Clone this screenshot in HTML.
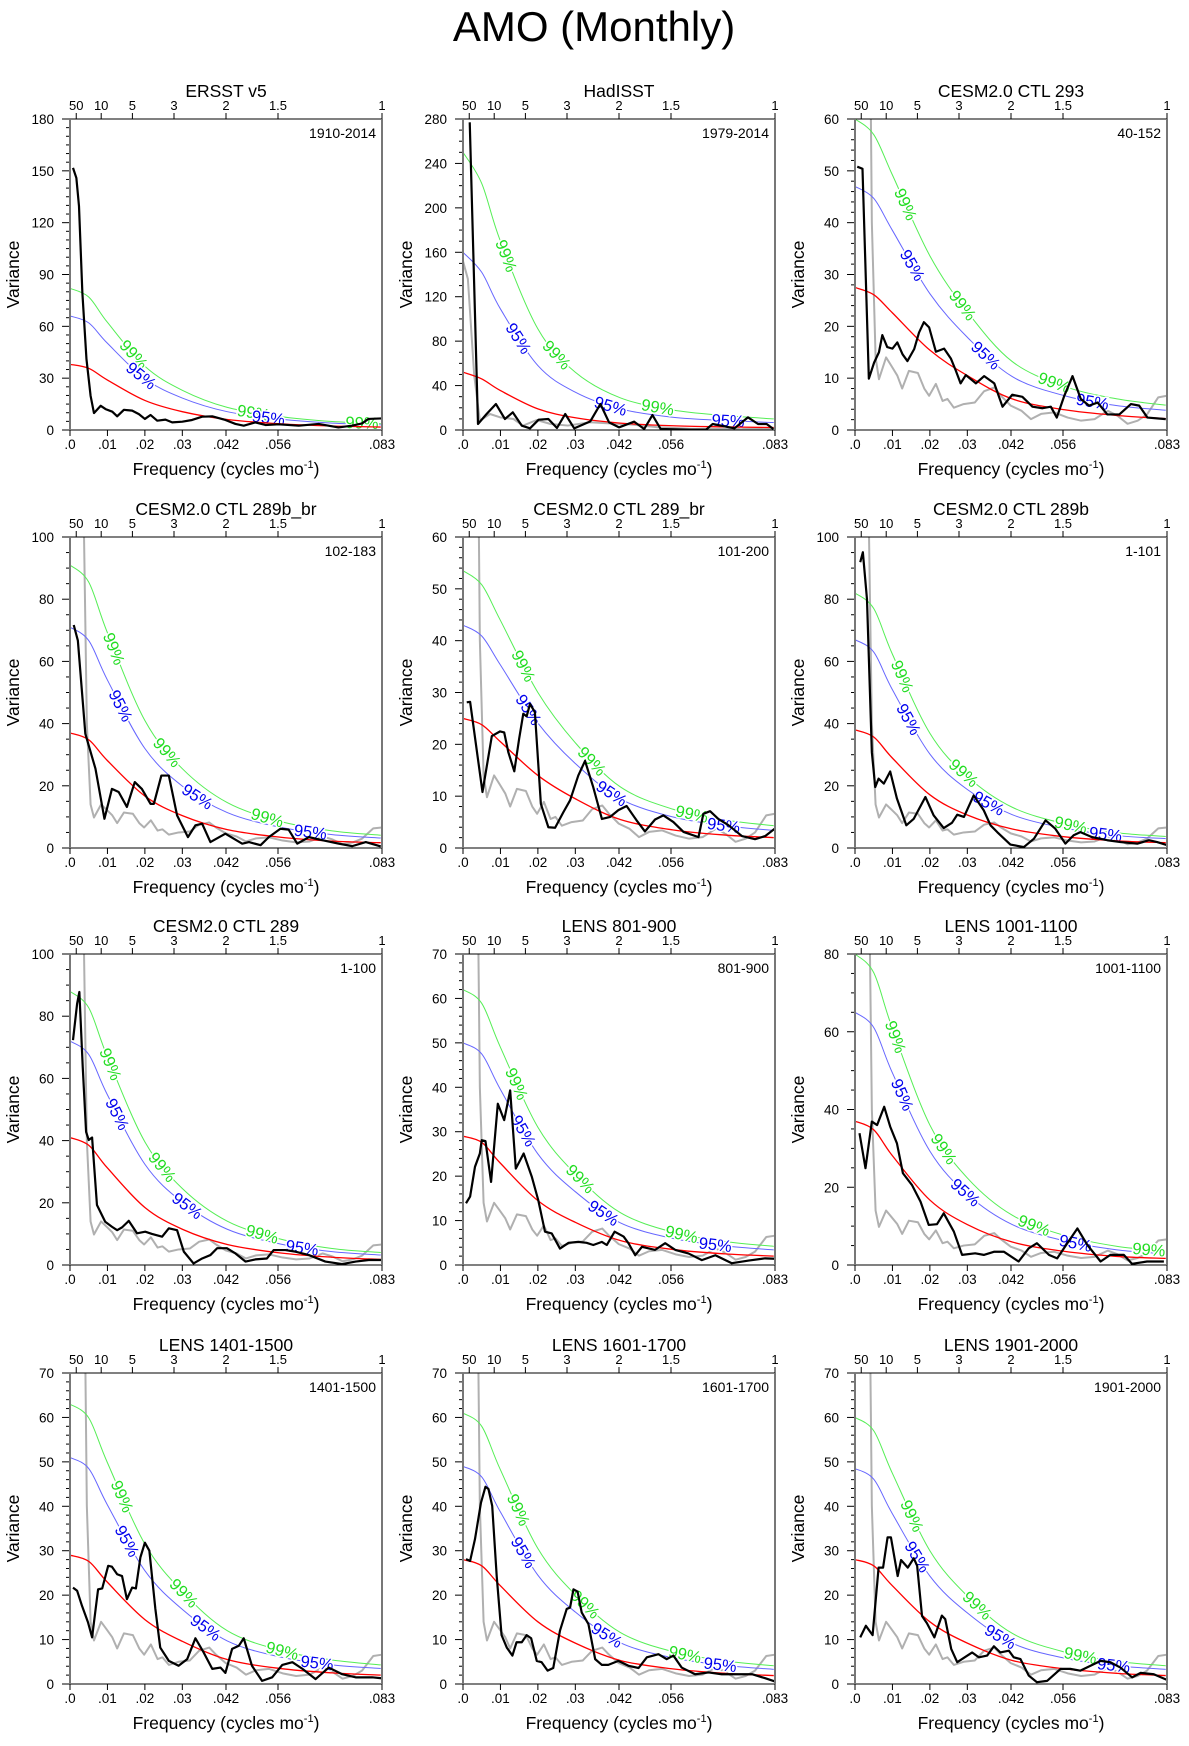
<!DOCTYPE html>
<html><head><meta charset="utf-8"><title>AMO (Monthly)</title>
<style>
html,body{margin:0;padding:0;background:#fff;}
svg{display:block;font-family:"Liberation Sans",Arial,sans-serif;}
</style></head>
<body>
<svg id="fig" width="1189" height="1746" viewBox="0 0 1189 1746" xmlns="http://www.w3.org/2000/svg">
<rect width="1189" height="1746" fill="#fff"/>
<text x="594" y="41" font-size="42" text-anchor="middle" fill="#000">AMO (Monthly)</text>
</svg>
<script>
// ---------- shared data ----------
const thFreq = [0,0.005,0.01,0.02,0.03,0.042,0.056,0.07,0.083];
const xTickVals = [0,0.01,0.02,0.03,1/24,1/18,1/12];
const xTickLabels = ['.0','.01','.02','.03','.042','.056','.083'];
const periodVals = [50,10,5,3,2,1.5,1];
const periodLabels = ['50','10','5','3','2','1.5','1'];
const grayF = [.0025,.0035,.0045,.0055,.0064,.0083,.0097,.0113,.0126,.0144,.0168,.0185,.0198,.0216,.0234,.0247,.0264,.029,.032,.0345,.0372,.039,.0416,.0445,.047,.0497,.0532,.0568,.0604,.064,.0675,.070,.0728,.0755,.078,.081,.0833];
const grayV = [300,120,40,14,9.8,14,12.4,10.5,8,11.4,11,8,6.6,8.9,5.6,6,4.3,5,5.3,7.5,8.2,6.6,4.7,3.7,2.1,3.1,3.4,2.4,1.8,2.1,3.7,2.8,1.2,1.8,3,6.3,6.6];
const hadGrayF = [0,.0013,.003,.0045,.0072,.0099,.0135,.016,.0197,.0234,.028,.034,.039,.045,.052,.061,.083];
const hadGrayV = [152,136,49,8.4,14.4,11.4,9.9,3.9,9,5.4,4,7,6,5,2.5,1,1];

// ---------- panel 1 ERSST ----------
const p1Red = [38,35.7,28.9,17.1,10.6,6.1,3.6,2.3,1.7];
const p1Blue = [66,62,50.2,29.7,18.5,10.6,6.3,4,3];
const p1Green = [82,77,62.3,36.9,23,13.1,7.8,4.9,3.7];
const p1BlackF = [.0008,.0017,.0024,.0033,.0044,.0055,.0064,.0082,.0095,.0113,.0126,.0144,.0166,.0184,.02,.0215,.0233,.0255,.0273,.03,.0326,.0353,.038,.0415,.0442,.0464,.0495,.0522,.0557,.0611,.0664,.0717,.0753,.078,.0797,.0831];
const p1BlackV = [151.7,145.9,129.6,79.5,41,19.8,9.8,14,12.1,10.6,7.9,11.7,11.2,9.2,6.4,8.7,5.4,6,4.4,4.8,5.8,7.7,7.9,5.8,3.5,2.5,4.4,2.9,3.3,2.5,3.5,1.5,2.5,3.8,6.4,6.7];
// ---------- panel 2 HadISST ----------
const p2Red = [52,46,35.5,19,11,6.2,3.8,2.8,2.2];
const p2Blue = [160,142,109,58,34,19,11.5,8.5,6.7];
const p2Green = [250,222,170,91,52,29,18,13,10];
const p2BlackF = [.0018,.004,.0063,.0088,.0112,.0133,.0157,.0179,.0202,.0228,.0251,.0273,.0297,.034,.0367,.039,.0417,.0457,.0484,.0506,.0528,.0609,.0649,.0667,.0725,.0761,.0788,.0811,.0829];
const p2BlackV = [277,5.4,14.4,23.4,9.9,15.9,3.9,1.5,9.3,9.9,1.8,14.4,1.5,7.8,23.4,6.9,2.4,7.5,0.9,13.5,0.9,0.3,0.3,5.4,1.5,11.4,5.4,5.4,0.9];
// ---------- panel 3 ----------
const p3Red = [27.5,26.1,22.6,15.4,10.5,6,3.9,2.8,2.2];
const p3Blue = [47,44.7,38.5,26.3,17.9,10.3,6.6,4.7,3.8];
const p3Green = [60,57,49.2,33.6,22.8,13.2,8.4,6,4.8];
const p3BlackF = [.0006,.002,.0037,.0051,.0064,.0073,.0086,.01,.0113,.0127,.014,.0158,.0171,.0184,.0198,.0216,.0238,.0256,.0269,.0282,.0296,.0323,.0345,.0372,.0394,.042,.0447,.0474,.0501,.0523,.0539,.0559,.0581,.0603,.0625,.0648,.0674,.0706,.0737,.0759,.0781,.083];
const p3BlackV = [50.8,50.4,9.9,13,15,18.3,16,15.7,16.9,14.6,13.3,15.6,18.8,20.8,19.8,15.1,15.7,13.8,11.5,9,10.6,9,10.4,9,4.5,6.8,6.4,4.5,4.2,4.5,2.4,6.6,10.4,6,4.7,5.3,3,3,5,4.7,2.4,2.1];
// ---------- panel 4 ----------
const p4Red = [37,34.8,28.1,16.7,10.4,5.9,3.5,2.2,1.7];
const p4Blue = [71,66.7,54,32,19.9,11.4,6.7,4.3,3.2];
const p4Green = [91,85.5,69.2,41,25.5,14.6,8.6,5.5,4.1];
const p4BlackF = [.001,.0021,.0041,.0068,.0092,.0112,.013,.0152,.0173,.0192,.0215,.0224,.0244,.0264,.0286,.0315,.0335,.0353,.0375,.0415,.046,.0478,.0509,.0531,.0562,.0584,.0607,.0638,.0674,.0718,.0754,.079,.083];
const p4BlackV = [71.7,66.7,36.7,25.5,9.4,19,18,13.2,21.2,19,14.2,14.2,23.3,23.3,10.5,3.5,7.3,7.8,1.9,4.6,1.4,1.9,0.9,3.5,6.2,5.9,1.4,3.5,2.5,1.4,0.6,1.9,0.5];
// ---------- panel 5 ----------
const p5Red = [25,23.8,20.5,14,9.5,5.5,3.5,2.5,2];
const p5Blue = [43,40.9,35.3,24.1,16.3,9.5,6,4.3,3.4];
const p5Green = [53.5,50.8,43.9,30,20.3,11.8,7.5,5.4,4.3];
const p5BlackF = [.001,.0019,.0052,.0077,.0099,.011,.0121,.0137,.015,.0161,.017,.0179,.0192,.0208,.0228,.0246,.0268,.0286,.0308,.0326,.0348,.0371,.0393,.0415,.0437,.0464,.0486,.0513,.0535,.0562,.0589,.0629,.0642,.066,.0682,.0709,.0745,.078,.0807,.0832];
const p5BlackV = [28.1,28.2,10.8,21.6,22.5,22.3,18.5,14.8,21.1,25.9,25.4,27.8,26.2,8.5,4,3.9,6.9,9.2,14,16.8,11.7,5.6,6,7.3,8.1,5.3,3.2,5.5,6.3,5,3.1,2.1,6.6,7.1,5.6,4.4,2.3,1.7,2.3,3.7];
// ---------- panel 6 ----------
const p6Red = [38,35.7,28.9,17.1,10.6,6.1,3.6,2.3,1.7];
const p6Blue = [67,63,50.9,30.2,18.8,10.7,6.4,4,3];
const p6Green = [82,77,62.3,36.9,23,13.1,7.8,4.9,3.7];
const p6BlackF = [.0014,.0021,.0032,.0045,.0054,.0063,.0077,.0094,.0112,.0137,.0157,.0188,.021,.0237,.0259,.0273,.0291,.0317,.0344,.0362,.038,.0415,.0451,.0478,.0509,.0535,.0562,.0584,.0602,.0633,.0674,.0709,.0754,.0785,.0807,.0834];
const p6BlackV = [91.9,95.1,80,30.8,19.6,22.3,20.7,24.6,15.9,7.3,9.4,16.4,10.5,6.4,8.1,10.7,10,16.9,12.1,7.3,5.1,1.1,0.3,3,8.9,6.2,1.4,4.1,5.1,3.5,2.5,1.9,1.4,2.5,1.9,0.9];
// ---------- panel 7 ----------
const p7Red = [41,38.5,31.2,18.5,11.5,6.6,3.9,2.5,1.8];
const p7Blue = [72,67.7,54.7,32.4,20.2,11.5,6.8,4.3,3.2];
const p7Green = [88,82.7,66.9,39.6,24.6,14.1,8.4,5.3,4];
const p7BlackF = [.0008,.0019,.0025,.0034,.0043,.005,.0059,.0072,.0094,.0112,.0126,.0139,.0157,.0179,.0201,.0219,.0246,.0264,.0286,.0304,.033,.0353,.0375,.0393,.0419,.0442,.0469,.0495,.0526,.0544,.0575,.0602,.0638,.0682,.0727,.0763,.0798,.0832];
const p7BlackV = [72.3,84,87.8,63.7,42.8,40.2,41,19.3,13.9,12.3,11.2,12.1,14.2,10.2,10.7,10,9.1,11.8,11.2,4.3,0.5,2.1,3.2,5.4,5.4,3.7,1.1,1.8,2.1,4.8,4.8,4.3,3.2,1.1,0.3,1.1,1.6,1.6];
// ---------- panel 8 ----------
const p8Red = [29,27.6,22.9,14.5,9.6,5.5,3.5,2.5,2];
const p8Blue = [50,47.5,39.5,25,16.5,9.5,6,4.3,3.4];
const p8Green = [62,58.9,49,31,20.5,11.8,7.4,5.3,4.2];
const p8BlackF = [.0008,.0019,.0032,.0045,.005,.006,.0075,.0093,.011,.0126,.0141,.0162,.0184,.0201,.0219,.0237,.0259,.0282,.0308,.033,.0348,.0371,.0384,.0405,.0429,.0442,.046,.0478,.0513,.054,.0567,.0602,.0638,.0674,.0718,.0763,.0807,.0832];
const p8BlackV = [13.9,15.4,22.1,25.1,28.1,27.9,18.7,36.3,32.6,39.3,21.7,25.1,19.8,14.6,7.5,7.1,3.7,5,5.2,5,4.5,5.2,4.5,7.5,6.4,4.9,2.2,4.1,3.4,4.9,3.4,2.6,1.1,2.2,0.4,1,1.5,1.4];
// ---------- panel 9 ----------
const p9Red = [37,34.8,28.1,16.7,10.4,5.9,3.5,2.2,1.7];
const p9Blue = [65,61.1,49.4,29.3,18.2,10.4,6.2,3.9,2.9];
const p9Green = [80,75.2,60.8,36,22.4,12.8,7.6,4.8,3.6];
const p9BlackF = [.0012,.0028,.0045,.0059,.0078,.0094,.0112,.0128,.0152,.0175,.0197,.0219,.0237,.0264,.0286,.0321,.0344,.0371,.0398,.0437,.0464,.0486,.0518,.054,.0567,.0594,.0621,.0656,.0682,.0718,.074,.078,.0825];
const p9BlackV = [33.9,24.9,36.9,36,40.7,35.6,31.3,23.6,20.6,16.3,10.3,10.5,13.3,8.6,2.6,3,2.6,3.4,3.4,0.9,4.3,5.6,2.6,1.7,5.6,9.4,5.1,0.9,2.6,2.6,0.3,0.9,0.9];
// ---------- panel 10 ----------
const p10Red = [29,27.6,22.9,14.5,9.6,5.5,3.5,2.5,2];
const p10Blue = [51,48.5,40.3,25.5,16.8,9.7,6.1,4.3,3.5];
const p10Green = [63,59.9,49.8,31.5,20.8,12,7.6,5.4,4.3];
const p10BlackF = [.0008,.0019,.0032,.0048,.0059,.0075,.0086,.0102,.0112,.0126,.0139,.0152,.0166,.0176,.0188,.02,.0212,.0228,.0241,.0264,.029,.0313,.0335,.0357,.038,.0402,.0415,.0433,.0451,.0464,.0486,.0513,.054,.0567,.0594,.0621,.0656,.0691,.0727,.0763,.0807,.0832];
const p10BlackV = [21.7,21,17.6,13.9,10.5,21.3,21.5,26.6,26.4,24.7,24.3,19.1,21.7,21.5,28.5,31.8,30,16.9,8.2,5.2,4.1,5.6,10.3,7.1,3.4,3.7,2.5,7.9,8.6,10.3,4.1,0.7,1.5,4.3,4.9,3.4,1.1,3.7,2.2,1.5,1.5,1.3];
// ---------- panel 11 ----------
const p11Red = [28,26.6,22.1,14,9.2,5.3,3.4,2.4,1.9];
const p11Blue = [49,46.6,38.7,24.5,16.2,9.3,5.9,4.2,3.3];
const p11Green = [61,58,48.2,30.5,20.1,11.6,7.3,5.2,4.1];
const p11BlackF = [.0008,.0019,.0032,.0048,.006,.0068,.0078,.009,.0103,.0117,.0132,.0143,.0157,.017,.0182,.0197,.021,.0226,.0241,.0259,.0277,.0286,.0295,.0306,.0317,.0335,.0353,.0371,.0388,.0415,.0442,.0469,.0491,.0522,.0544,.0562,.0584,.062,.0656,.0691,.0736,.0772,.0807,.0832];
const p11BlackV = [28.1,27.7,32.6,40.8,44.4,43.9,40.1,24.3,11,8.2,6.4,9.4,9.4,11,10.3,5.2,4.9,3,3.6,12,16.9,17.2,21.3,20.8,16.1,13.5,5.6,4.3,4.3,5.2,4.1,3.6,6,6.7,5.6,6.4,3.7,2.2,2.6,2.2,2.2,2.2,1.3,0.6];
// ---------- panel 12 ----------
const p12Red = [28,26.6,22.1,14,9.2,5.3,3.4,2.4,1.9];
const p12Blue = [48.5,46.1,38.3,24.3,16,9.2,5.8,4.1,3.3];
const p12Green = [60,57,47.4,30,19.8,11.4,7.2,5.1,4.1];
const p12BlackF = [.0014,.0029,.0047,.0063,.0075,.0087,.0096,.0114,.0123,.0141,.0157,.0166,.0179,.0192,.0212,.0232,.0241,.0257,.0273,.0313,.0331,.0353,.0371,.0388,.0411,.0424,.0442,.0464,.0486,.0513,.0549,.0575,.0602,.0629,.0656,.0682,.0709,.074,.0763,.0798,.0834];
const p12BlackV = [10.5,13.1,11,26.2,26.2,33,33,24.3,27.9,26.2,28.3,26.6,15.3,13.7,10.5,15.4,14.6,7.9,4.9,7.1,6,6.4,8.5,7.1,7.5,6,5.6,1.9,0.4,0.7,3.4,3.4,3,4.1,5.2,4.9,3.7,1.5,2.5,2.2,0.9];

// ---------- label positions (frequency) ----------
const p1GLab=[.017,.049,.078], p1BLab=[.019,.053];
const p2GLab=[.0115,.025,.052], p2BLab=[.0148,.0394,.0708];
const p3GLab=[.0135,.0287,.0532], p3BLab=[.0153,.0349,.0634];
const p4GLab=[.0117,.0259,.0527], p4BLab=[.0135,.034,.0642];
const p5GLab=[.0161,.0344,.0611], p5BLab=[.0175,.0397,.0696];
const p6GLab=[.0126,.029,.0576], p6BLab=[.0143,.0357,.0669];
const p7GLab=[.0108,.0246,.0513], p7BLab=[.0126,.0313,.062];
const p8GLab=[.0143,.0313,.0584], p8BLab=[.0161,.0375,.0674];
const p9GLab=[.0108,.0237,.0478,.0785], p9BLab=[.0126,.0295,.0589];
const p10GLab=[.0139,.0304,.0567], p10BLab=[.0152,.0362,.066];
const p11GLab=[.0148,.0326,.0593], p11BLab=[.0161,.0384,.0687];
const p12GLab=[.0152,.0326,.0602], p12BLab=[.0166,.0388,.0691];

const COLS=[70,463,855], ROWS=[119,537,954,1373], W=312, H=311, FMAX=1/12;
const panels = [
 {t:'ERSST v5',r:'1910-2014',ymax:180,maj:30,min:5,red:p1Red,blue:p1Blue,green:p1Green,bf:p1BlackF,bv:p1BlackV,gf:null,gv:null,gl:p1GLab,bl:p1BLab},
 {t:'HadISST',r:'1979-2014',ymax:280,maj:40,min:10,red:p2Red,blue:p2Blue,green:p2Green,bf:p2BlackF,bv:p2BlackV,gf:hadGrayF,gv:hadGrayV,gl:p2GLab,bl:p2BLab},
 {t:'CESM2.0 CTL 293',r:'40-152',ymax:60,maj:10,min:2,red:p3Red,blue:p3Blue,green:p3Green,bf:p3BlackF,bv:p3BlackV,gf:grayF,gv:grayV,gl:p3GLab,bl:p3BLab},
 {t:'CESM2.0 CTL 289b_br',r:'102-183',ymax:100,maj:20,min:5,red:p4Red,blue:p4Blue,green:p4Green,bf:p4BlackF,bv:p4BlackV,gf:grayF,gv:grayV,gl:p4GLab,bl:p4BLab},
 {t:'CESM2.0 CTL 289_br',r:'101-200',ymax:60,maj:10,min:2,red:p5Red,blue:p5Blue,green:p5Green,bf:p5BlackF,bv:p5BlackV,gf:grayF,gv:grayV,gl:p5GLab,bl:p5BLab},
 {t:'CESM2.0 CTL 289b',r:'1-101',ymax:100,maj:20,min:5,red:p6Red,blue:p6Blue,green:p6Green,bf:p6BlackF,bv:p6BlackV,gf:grayF,gv:grayV,gl:p6GLab,bl:p6BLab},
 {t:'CESM2.0 CTL 289',r:'1-100',ymax:100,maj:20,min:5,red:p7Red,blue:p7Blue,green:p7Green,bf:p7BlackF,bv:p7BlackV,gf:grayF,gv:grayV,gl:p7GLab,bl:p7BLab},
 {t:'LENS 801-900',r:'801-900',ymax:70,maj:10,min:2,red:p8Red,blue:p8Blue,green:p8Green,bf:p8BlackF,bv:p8BlackV,gf:grayF,gv:grayV,gl:p8GLab,bl:p8BLab},
 {t:'LENS 1001-1100',r:'1001-1100',ymax:80,maj:20,min:5,red:p9Red,blue:p9Blue,green:p9Green,bf:p9BlackF,bv:p9BlackV,gf:grayF,gv:grayV,gl:p9GLab,bl:p9BLab},
 {t:'LENS 1401-1500',r:'1401-1500',ymax:70,maj:10,min:2,red:p10Red,blue:p10Blue,green:p10Green,bf:p10BlackF,bv:p10BlackV,gf:grayF,gv:grayV,gl:p10GLab,bl:p10BLab},
 {t:'LENS 1601-1700',r:'1601-1700',ymax:70,maj:10,min:2,red:p11Red,blue:p11Blue,green:p11Green,bf:p11BlackF,bv:p11BlackV,gf:grayF,gv:grayV,gl:p11GLab,bl:p11BLab},
 {t:'LENS 1901-2000',r:'1901-2000',ymax:70,maj:10,min:2,red:p12Red,blue:p12Blue,green:p12Green,bf:p12BlackF,bv:p12BlackV,gf:grayF,gv:grayV,gl:p12GLab,bl:p12BLab}
];

const NS='http://www.w3.org/2000/svg';
const svg=document.getElementById('fig');
function mk(tag,attrs,parent){const e=document.createElementNS(NS,tag);for(const k in attrs)e.setAttribute(k,attrs[k]);(parent||svg).appendChild(e);return e;}

function polyD(fs,vs,xs,ys){let d='';const n=Math.min(fs.length,vs.length);for(let i=0;i<n;i++){d+=(i?'L':'M')+xs(fs[i]).toFixed(2)+','+ys(vs[i]).toFixed(2);}return d;}
function smoothD(fs,vs,xs,ys){
  const p=fs.map((f,i)=>[xs(f),ys(vs[i])]);
  let d='M'+p[0][0].toFixed(2)+','+p[0][1].toFixed(2);
  for(let i=0;i<p.length-1;i++){
    const p0=p[i-1]||p[i],p1=p[i],p2=p[i+1],p3=p[i+2]||p[i+1];
    const c1=[p1[0]+(p2[0]-p0[0])/6,p1[1]+(p2[1]-p0[1])/6];
    const c2=[p2[0]-(p3[0]-p1[0])/6,p2[1]-(p3[1]-p1[1])/6];
    d+='C'+c1[0].toFixed(2)+','+c1[1].toFixed(2)+' '+c2[0].toFixed(2)+','+c2[1].toFixed(2)+' '+p2[0].toFixed(2)+','+p2[1].toFixed(2);
  }
  return d;
}
function pointAtX(path,x){
  const L=path.getTotalLength();let lo=0,hi=L;
  for(let k=0;k<40;k++){const m=(lo+hi)/2;if(path.getPointAtLength(m).x<x)lo=m;else hi=m;}
  const a=path.getPointAtLength(Math.max(0,lo-3)),b=path.getPointAtLength(Math.min(L,lo+3)),c=path.getPointAtLength(lo);
  return {x:c.x,y:c.y,ang:Math.atan2(b.y-a.y,b.x-a.x)*180/Math.PI};
}

panels.forEach((P,idx)=>{
  const L=COLS[idx%3],T=ROWS[Math.floor(idx/3)],R=L+W,B=T+H;
  const xs=f=>L+f/FMAX*W, ys=v=>B-v/P.ymax*H;
  const g=mk('g',{});
  
  
  const cid='clip'+idx;
  const cp=mk('clipPath',{id:cid},g);mk('rect',{x:L,y:T,width:W,height:H},cp);

  const tt=mk('text',{x:L+W/2,y:T-22,'font-size':17.5,'text-anchor':'middle',fill:'#000'},g);tt.textContent=P.t;
  
  
  const rl=mk('text',{x:R-6,y:T+19,'font-size':14,'text-anchor':'end',fill:'#000'},g);rl.textContent=P.r;
  
  

  for(let v=0;v<=P.ymax+1e-9;v+=P.min){
    const y=ys(v);const major=Math.abs(v/P.maj-Math.round(v/P.maj))<1e-6;
    mk('line',{x1:L-(major?8:4),x2:L,y1:y,y2:y,stroke:'#000','stroke-width':1},g);
    if(major){const t=mk('text',{x:L-16,y:y+5,'font-size':13.5,'text-anchor':'end',fill:'#000'},g);t.textContent=String(v);
      
      }
  }
  xTickVals.forEach((f,i)=>{const x=xs(f);mk('line',{x1:x,x2:x,y1:B,y2:B+6,stroke:'#000','stroke-width':1},g);
    const t=mk('text',{x:x,y:B+19,'font-size':13.5,'text-anchor':'middle',fill:'#000'},g);t.textContent=xTickLabels[i];
    
    });
  periodVals.forEach((p,i)=>{const x=xs(1/(12*p));mk('line',{x1:x,x2:x,y1:T-6,y2:T,stroke:'#000','stroke-width':1},g);
    const t=mk('text',{x:x,y:T-9,'font-size':13,'text-anchor':'middle',fill:'#000'},g);t.textContent=periodLabels[i];
    
    });
  const yt=mk('text',{x:0,y:0,'font-size':17.5,'text-anchor':'middle',fill:'#000',transform:'translate('+(L-51)+','+(T+H/2)+') rotate(-90)'},g);yt.textContent='Variance';
  
  
  const xt=mk('text',{x:L+W/2,y:B+45,'font-size':17.5,'text-anchor':'middle',fill:'#000'},g);
  
  
  xt.appendChild(document.createTextNode('Frequency (cycles mo'));
  const sup=mk('tspan',{dy:-7,'font-size':11},xt);sup.textContent='-1';
  const cl=mk('tspan',{dy:7},xt);cl.textContent=')';

  const pg=mk('g',{'clip-path':'url(#'+cid+')'},g);
  if(P.gf){const gp=mk('path',{d:polyD(P.gf,P.gv,xs,ys),fill:'none',stroke:'#b0b0b0','stroke-width':2,'stroke-linejoin':'round'},pg);
    
    }
  const gr=mk('path',{d:smoothD(thFreq,P.green,xs,ys),fill:'none',stroke:'#55ee55','stroke-width':1},pg);
  
  
  const bl=mk('path',{d:smoothD(thFreq,P.blue,xs,ys),fill:'none',stroke:'#6666ff','stroke-width':1},pg);
  
  
  [[P.gl,gr,'99%','#22dd22'],[P.bl,bl,'95%','#0000ee']].forEach(([labs,path,txt,col])=>{
    labs.forEach(f=>{const p=pointAtX(path,xs(f));
      const t=mk('text',{x:0,y:5.5,'font-size':16.5,'text-anchor':'middle',fill:col,stroke:'#fff','stroke-width':3,'paint-order':'stroke',transform:'translate('+p.x.toFixed(1)+','+p.y.toFixed(1)+') rotate('+p.ang.toFixed(1)+')'},pg);
      t.textContent=txt;
      
      });
  });
  const rd=mk('path',{d:smoothD(thFreq,P.red,xs,ys),fill:'none',stroke:'#ff0000','stroke-width':1.3},pg);
  
  
  const bk=mk('path',{d:polyD(P.bf,P.bv,xs,ys),fill:'none',stroke:'#000','stroke-width':2.2,'stroke-linejoin':'round'},pg);
  
  

  const fr=mk('rect',{x:L,y:T,width:W,height:H,fill:'none',stroke:'#000','stroke-width':1},g);
  
  
  mk('line',{x1:L,x2:L,y1:T,y2:B,stroke:'#777','stroke-width':2},g);
  mk('line',{x1:R,x2:R,y1:T,y2:B,stroke:'#777','stroke-width':2},g);
});
</script>
</body></html>
